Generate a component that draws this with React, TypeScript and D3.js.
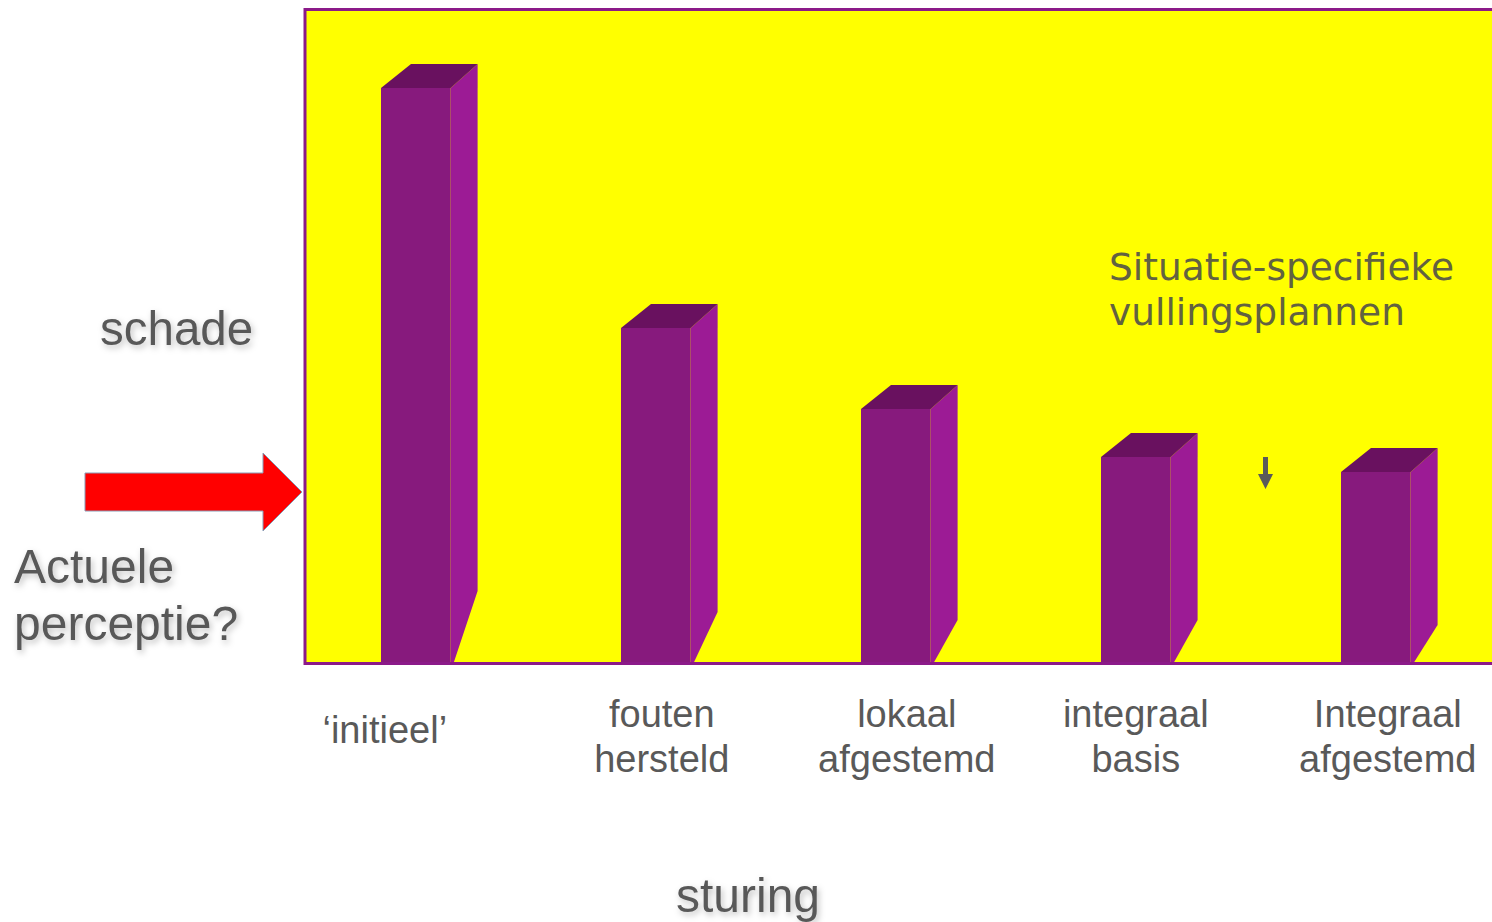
import React from "react";
import * as d3 from "d3";

// data (schade per sturing stage, arbitrary units)
const categories = ["initieel", "fouten hersteld", "lokaal afgestemd", "integraal basis", "Integraal afgestemd"];
const schade = [575, 335, 254, 206, 191];
const labelLines = [["\u2018initieel\u2019"], ["fouten", "hersteld"], ["lokaal", "afgestemd"], ["integraal", "basis"], ["Integraal", "afgestemd"]];

// style tweaks per bar (perspective of the 3D floor, label nudges)
const floorCut = [72, 51, 43, 43, 38];
const labelShift = [-31, 6, 11, 0, 12];

const W = 1492;
const H = 922;
const base = 663;
const depthX = 27;
const depthY = 24;

const FRONT = "#871a7d";
const SIDE = "#9c1b95";
const TOP = "#69115f";
const BORDER = "#8b1a89";
const GREY = "#595959";

const App = () => {
    const x = d3.scaleBand<string>()
        .domain(categories)
        .range([297, 1494.6])
        .paddingInner(0.71)
        .paddingOuter(0.35);
    const y = d3.scaleLinear().domain([0, 600]).range([base, 63]);

    const bw = x.bandwidth();

    return (
        <svg width={W} height={H} style={{position: "absolute", left: 0, top: 0, overflow: "hidden"}}
             fontFamily="'Liberation Sans', Arial, sans-serif">
            <defs>
                <filter id="shadow" x="-20%" y="-30%" width="140%" height="160%">
                    <feDropShadow dx="2" dy="3" stdDeviation="3" floodColor="#000" floodOpacity="0.25"/>
                </filter>
            </defs>
            <rect x={0} y={0} width={W} height={H} fill="#fff"/>

            {/* plot area */}
            <rect x={305} y={9.5} width={1300} height={654} fill="#ffff00" stroke={BORDER} strokeWidth={3}/>

            {categories.map((c, i) => {
                const x0 = x(c)!;
                const x1 = x0 + bw;
                const yt = y(schade[i]);
                const cut = floorCut[i];
                const side = [
                    [x1, yt], [x1 + depthX, yt - depthY], [x1 + depthX, base - cut], [x1 + 3, base], [x1, base],
                ].map(p => p.join(",")).join(" ");
                const top = [
                    [x0, yt], [x0 + depthX + 3, yt - depthY], [x1 + depthX, yt - depthY], [x1, yt],
                ].map(p => p.join(",")).join(" ");
                return (
                    <g key={c}>
                        <rect x={x0} y={yt} width={bw} height={base - yt} fill={FRONT}/>
                        <polygon points={side} fill={SIDE}/>
                        <polygon points={top} fill={TOP}/>
                    </g>
                );
            })}

            {/* bottom border redrawn over bars */}
            <line x1={305} x2={W} y1={663.5} y2={663.5} stroke={BORDER} strokeWidth={3}/>

            {/* category labels */}
            {categories.map((c, i) => {
                const cx = x(c)! + bw / 2 + labelShift[i];
                const lines = labelLines[i];
                const y0 = lines.length === 1 ? 743 : 727;
                return (
                    <text key={c} x={cx} y={y0} textAnchor="middle" fontSize={38} fill={GREY}>
                        {lines.map((l, j) => (
                            <tspan key={j} x={cx} dy={j === 0 ? 0 : 45}>{l}</tspan>
                        ))}
                    </text>
                );
            })}

            <text x={748} y={912} textAnchor="middle" fontSize={48} fill={GREY} filter="url(#shadow)">sturing</text>
            <text x={100} y={345} fontSize={47.5} fill={GREY} filter="url(#shadow)">schade</text>
            <text x={14} y={583} fontSize={48} fill={GREY} filter="url(#shadow)">
                <tspan x={14}>Actuele</tspan>
                <tspan x={14} dy={57}>perceptie?</tspan>
            </text>

            <text x={1109} y={280} fontSize={37.5} fill="#626240" fontFamily="'DejaVu Sans', Verdana, sans-serif">
                <tspan x={1109}>Situatie-specifieke</tspan>
                <tspan x={1109} dy={45}>vullingsplannen</tspan>
            </text>

            {/* small down arrow */}
            <polygon points="1263,457 1268,457 1268,474 1273,474 1265.5,489 1258,474 1263,474" fill="#5a5a5a"/>

            {/* red arrow */}
            <polygon points="85,473 263,473 263,453 302,492 263,531 263,511 85,511"
                     fill="#ff0000" stroke="#8a9bb5" strokeWidth={1}/>
        </svg>
    );
};

export default App;
